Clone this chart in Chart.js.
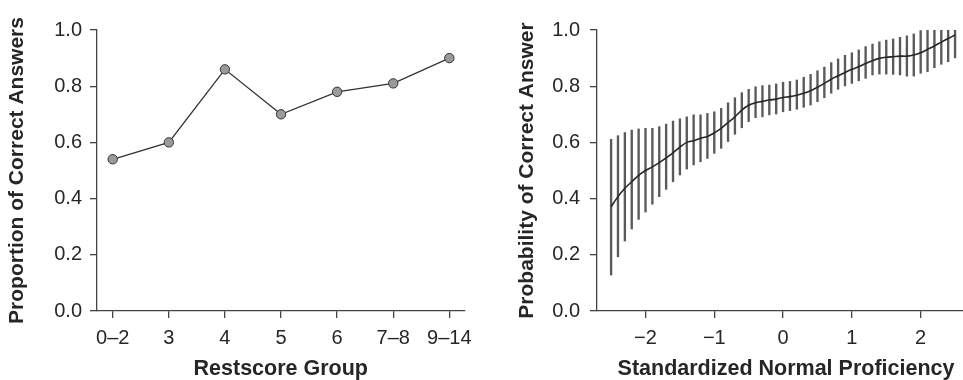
<!DOCTYPE html>
<html>
<head>
<meta charset="utf-8">
<script src="https://cdn.jsdelivr.net/npm/chart.js@4"></script>
<style>
  html, body { margin: 0; padding: 0; background: #fff; overflow: hidden; }
  body { width: 963px; height: 380px; position: relative; }
  .panel { position: absolute; top: 0; height: 380px; }
  #leftBox { left: 0; width: 480px; }
  #rightBox { left: 480px; width: 510px; }
</style>
</head>
<body>
<div id="leftBox" class="panel"><canvas id="restscoreChart"></canvas></div>
<div id="rightBox" class="panel"><canvas id="proficiencyChart"></canvas></div>

<script>
// left panel: observed proportion per restscore group
const restscoreGroups = ["0–2", "3", "4", "5", "6", "7–8", "9–14"];
const groupPositions = [0, 1, 2, 3, 4, 5, 6];
const proportions = [0.54, 0.60, 0.86, 0.70, 0.78, 0.81, 0.90];

// right panel: model probability with interval bars
const proficiency = [
  -2.5, -2.4, -2.3, -2.2, -2.1, -2.0, -1.9, -1.8, -1.7, -1.6,
  -1.5, -1.4, -1.3, -1.2, -1.1, -1.0, -0.9, -0.8, -0.7, -0.6,
  -0.5, -0.4, -0.3, -0.2, -0.1, 0.0, 0.1, 0.2, 0.3, 0.4,
  0.5, 0.6, 0.7, 0.8, 0.9, 1.0, 1.1, 1.2, 1.3, 1.4,
  1.5, 1.6, 1.7, 1.8, 1.9, 2.0, 2.1, 2.2, 2.3, 2.4, 2.5
];
const probability = [
  0.371, 0.407, 0.437, 0.460, 0.483, 0.500, 0.513, 0.528, 0.545, 0.563,
  0.583, 0.600, 0.606, 0.615, 0.621, 0.634, 0.650, 0.671, 0.691, 0.715,
  0.732, 0.741, 0.746, 0.751, 0.754, 0.760, 0.763, 0.768, 0.775, 0.784,
  0.796, 0.810, 0.825, 0.837, 0.849, 0.860, 0.869, 0.881, 0.891, 0.899,
  0.903, 0.905, 0.907, 0.907, 0.911, 0.919, 0.931, 0.943, 0.957, 0.970, 0.982
];
const upperBound = [
  0.611, 0.624, 0.635, 0.644, 0.648, 0.650, 0.650, 0.656, 0.665, 0.676,
  0.684, 0.691, 0.698, 0.698, 0.703, 0.709, 0.721, 0.741, 0.759, 0.777,
  0.789, 0.798, 0.802, 0.804, 0.808, 0.814, 0.817, 0.822, 0.832, 0.842,
  0.855, 0.868, 0.884, 0.897, 0.910, 0.919, 0.929, 0.941, 0.950, 0.958,
  0.964, 0.968, 0.974, 0.979, 0.986, 0.998, 1.0, 1.0, 1.0, 1.0, 1.0
];
const lowerBound = [
  0.128, 0.193, 0.249, 0.292, 0.326, 0.352, 0.380, 0.407, 0.433, 0.460,
  0.484, 0.505, 0.520, 0.531, 0.543, 0.561, 0.579, 0.603, 0.629, 0.652,
  0.674, 0.688, 0.691, 0.698, 0.701, 0.709, 0.713, 0.718, 0.725, 0.733,
  0.745, 0.759, 0.775, 0.789, 0.801, 0.810, 0.819, 0.828, 0.840, 0.843,
  0.843, 0.842, 0.840, 0.836, 0.836, 0.846, 0.852, 0.866, 0.878, 0.887, 0.901
];
const proficiencyTicks = [-2, -1, 0, 1, 2];
const yTicks = [0, 0.2, 0.4, 0.6, 0.8, 1.0];

const FONT = "'Liberation Sans', Arial, Helvetica, sans-serif";
const TEXT = "#262626";
const AXIS = "#444";

function yAxis(title, width, tickPad, titlePad) {
  return {
    type: "linear",
    min: 0,
    max: 1,
    afterBuildTicks: a => { a.ticks = yTicks.map(v => ({ value: v })); },
    afterFit: a => { a.width = width; },
    ticks: {
      padding: tickPad,
      color: TEXT,
      font: { family: FONT, size: 20 },
      callback: v => v.toFixed(1)
    },
    grid: { display: true, drawOnChartArea: false, drawTicks: true, tickLength: 7, color: AXIS, lineWidth: 1.3 },
    border: { display: true, color: AXIS, width: 1.3 },
    title: {
      display: true,
      text: title,
      color: TEXT,
      padding: { top: titlePad, bottom: 0 },
      font: { family: FONT, size: 21, weight: "bold", lineHeight: 1 }
    }
  };
}

function xAxis(title, min, max, tickValues, labelFn) {
  return {
    type: "linear",
    min: min,
    max: max,
    offset: false,
    afterBuildTicks: a => { a.ticks = tickValues.map(v => ({ value: v })); },
    afterFit: a => { a.height = 69; },
    ticks: {
      padding: 8,
      color: TEXT,
      maxRotation: 0,
      autoSkip: false,
      font: { family: FONT, size: 20 },
      callback: labelFn
    },
    grid: { display: true, offset: false, drawOnChartArea: false, drawTicks: true, tickLength: 7, color: AXIS, lineWidth: 1.3 },
    border: { display: true, color: AXIS, width: 1.3 },
    title: {
      display: true,
      text: title,
      color: TEXT,
      padding: { top: 0, bottom: 0 },
      font: { family: FONT, size: 21.5, weight: "bold", lineHeight: 1 }
    }
  };
}

const commonPlugins = { legend: { display: false }, tooltip: { enabled: false } };

new Chart(document.getElementById("restscoreChart"), {
  type: "line",
  data: {
    datasets: [{
      data: groupPositions.map((x, i) => ({ x: x, y: proportions[i] })),
      borderColor: "#333",
      borderWidth: 1.3,
      pointRadius: 4.7,
      pointBackgroundColor: "#9a9a9a",
      pointBorderColor: "#333",
      pointBorderWidth: 1,
      tension: 0
    }]
  },
  options: {
    responsive: true,
    maintainAspectRatio: false,
    animation: false,
    layout: { padding: { top: 30, right: 10, bottom: 0, left: 0 } },
    plugins: commonPlugins,
    scales: {
      x: xAxis("Restscore Group", -0.28, 6.27, groupPositions, v => restscoreGroups[v]),
      y: yAxis("Proportion of Correct Answers", 97, 8, 7)
    }
  }
});

new Chart(document.getElementById("proficiencyChart"), {
  type: "line",
  data: {
    datasets: [
      {
        type: "line",
        data: proficiency.map((x, i) => ({ x: x, y: probability[i] })),
        borderColor: "#262626",
        borderWidth: 1.6,
        pointRadius: 0,
        tension: 0.3,
        order: 0
      },
      {
        type: "bar",
        data: proficiency.map((x, i) => ({ x: x, y: [lowerBound[i], upperBound[i]] })),
        backgroundColor: "#5a5a5a",
        borderWidth: 0,
        barThickness: 1.7,
        grouped: false,
        order: 1
      }
    ]
  },
  options: {
    responsive: true,
    maintainAspectRatio: false,
    animation: false,
    layout: { padding: { top: 30, right: 15, bottom: 0, left: 0 } },
    plugins: commonPlugins,
    scales: {
      x: xAxis("Standardized Normal Proficiency", -2.705, 2.79, proficiencyTicks,
               v => (v < 0 ? "\u2212" + Math.abs(v) : String(v))),
      y: yAxis("Probability of Correct Answer", 117, 10, 37)
    }
  }
});
</script>
</body>
</html>
